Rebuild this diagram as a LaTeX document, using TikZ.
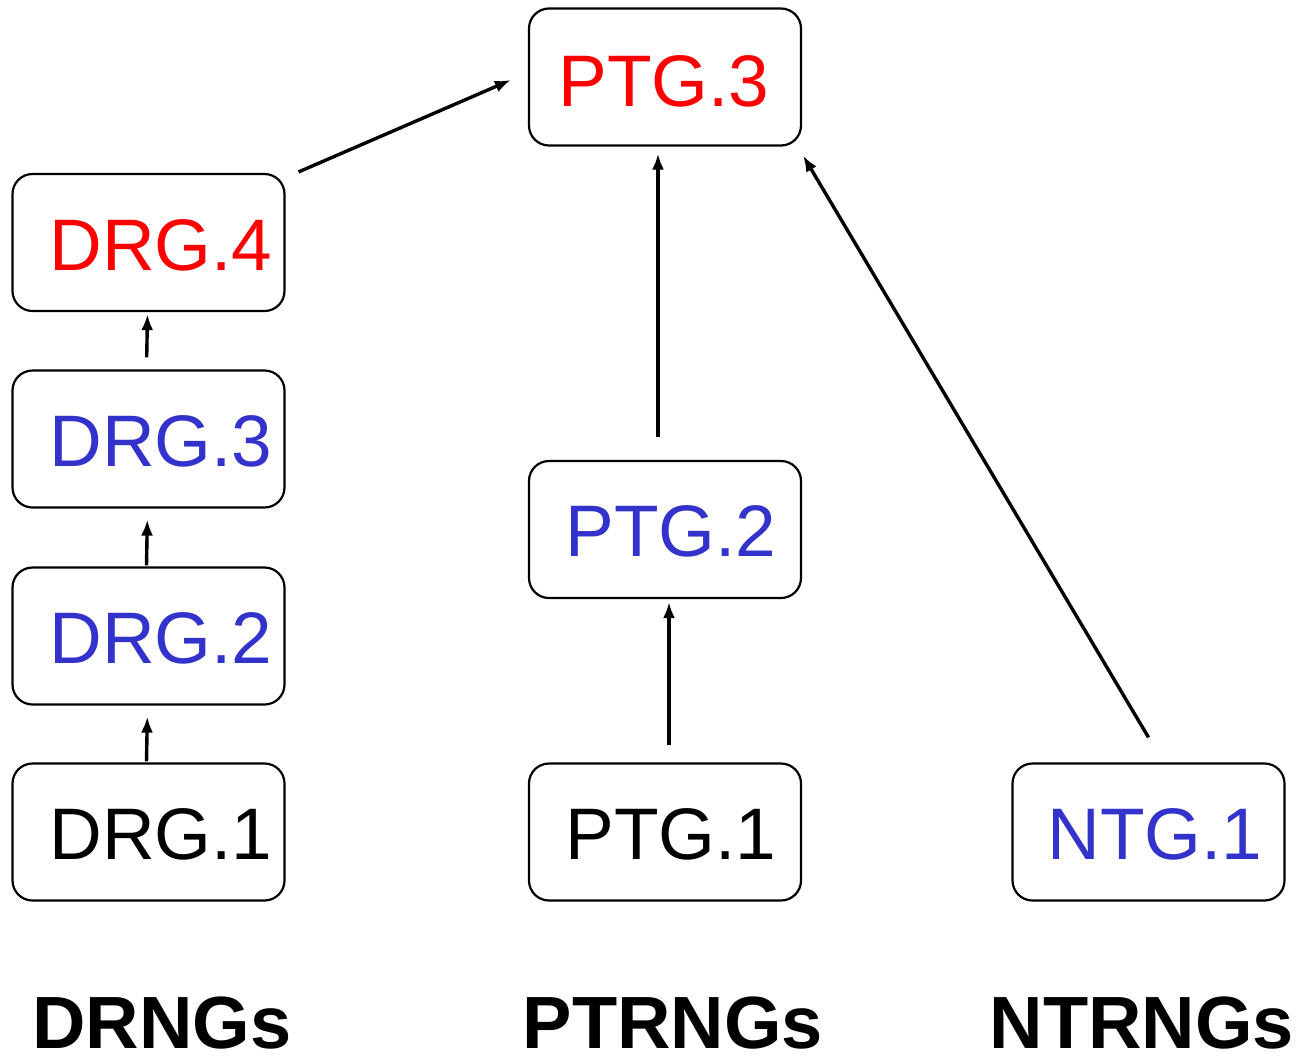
\documentclass[tikz,border=0pt]{standalone}
\usepackage{fontspec}
\setmainfont{Liberation Sans}
\usetikzlibrary{arrows.meta}
\definecolor{myblue}{RGB}{51,51,204}
\definecolor{myred}{RGB}{255,0,0}
\begin{document}
\begin{tikzpicture}[x=1pt,y=-1pt,
  box/.style={draw=black,line width=2.2pt,rounded corners=20pt,minimum width=272pt,minimum height=137pt,inner sep=0pt},
  lbl/.style={inner sep=0pt,font=\fontsize{73}{80}\selectfont},
  grp/.style={inner sep=0pt,font=\fontsize{74}{80}\selectfont\bfseries},
  arr/.style={line width=3.4pt,-{Latex[length=16pt,width=12pt]}}]
\useasboundingbox (0,0) rectangle (1301,1058);
% boxes
\node[box] (d4) at (148.5,242.5) {};
\node[box] (d3) at (148.5,439) {};
\node[box] (d2) at (148.5,636) {};
\node[box] (d1) at (148.5,832) {};
\node[box] (p3) at (665,77) {};
\node[box] (p2) at (665,529.5) {};
\node[box] (p1) at (665,832) {};
\node[box] (n1) at (1148.5,832) {};
% texts
\node[lbl,text=myred] (t4) at (161,245) {DRG.4};
\node[lbl,text=myblue] (t3) at (161,441) {DRG.3};
\node[lbl,text=myblue] (t2) at (161,638) {DRG.2};
\node[lbl,text=black] (t1) at (161,834) {DRG.1};
\node[lbl,text=myred] (tp3) at (664,81) {PTG.3};
\node[lbl,text=myblue] (tp2) at (671,531) {PTG.2};
\node[lbl,text=black] (tp1) at (671,834) {PTG.1};
\node[lbl,text=myblue] (tn1) at (1155,834) {NTG.1};
% group labels
\node[grp] (g1) at (162,1023) {DRNGs};
\node[grp] (g2) at (673,1023) {PTRNGs};
\node[grp] (g3) at (1142,1023) {NTRNGs};
% arrows
\draw[arr,shorten <=1pt,shorten >=11pt] ([xshift=-2pt]d1.north) -- ([xshift=-1pt]d2.south);
\draw[arr,shorten <=1pt,shorten >=11pt] ([xshift=-2pt]d2.north) -- ([xshift=-1pt]d3.south);
\draw[arr,shorten <=12pt,shorten >=2pt] ([xshift=-2pt]d3.north) -- ([xshift=-1pt]d4.south);
\draw[arr] ([xshift=13pt,yshift=1pt]d4.north east) -- ([xshift=-17pt,yshift=-3pt]p3.west);
\draw[arr,shorten <=23pt,shorten >=7pt] ([xshift=-7pt]p2.north) -- ([xshift=-7pt]p3.south);
\draw[arr,shorten <=17pt,shorten >=3pt] ([xshift=4pt]p1.north) -- ([xshift=4pt]p2.south);
\draw[arr] ([yshift=25pt]n1.north) -- ([xshift=1pt,yshift=-9pt]p3.south east);
\end{tikzpicture}
\end{document}
